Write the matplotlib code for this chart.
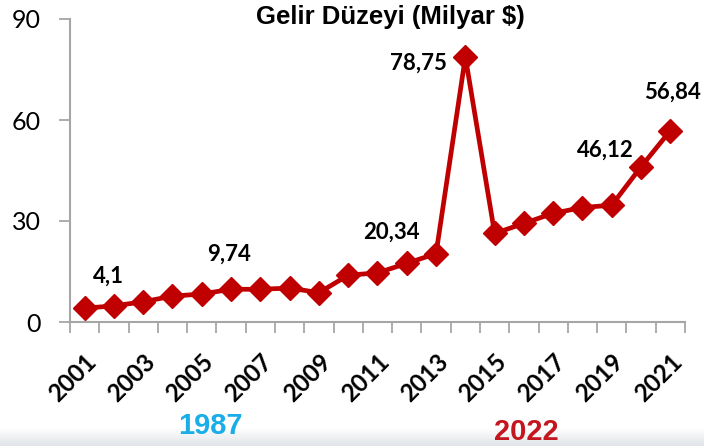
import numpy as np
import matplotlib
matplotlib.use("Agg")
from matplotlib import pyplot as plt
from matplotlib.colors import LinearSegmentedColormap

# data
years = [str(y) for y in range(2001, 2022)]
values = [4.1, 4.8, 6.0, 7.7, 8.3, 9.74, 9.7, 10.1, 8.7, 13.9,
          14.6, 17.4, 20.34, 78.75, 26.3, 29.3, 32.3, 34.0, 34.7, 46.12, 56.84]
labelled = {"2001": "4,1", "2006": "9,74", "2013": "20,34",
            "2014": "78,75", "2020": "46,12", "2021": "56,84"}
label_offsets = {"2001": (24, 32), "2006": (-2, 35), "2013": (-45, 21),
                 "2014": (-47, -6), "2020": (-36, 17), "2021": (2, 38)}
yticks = [0, 30, 60, 90]

RED = "#c00000"
GRAY = "#a6a6a6"
NUM_FONT = "Lato"

fig = plt.figure(figsize=(7.04, 4.46), dpi=100)

# faint gray band at the bottom of the slide
band = fig.add_axes([0, 0, 1, 18 / 446], zorder=0)
grad = np.linspace(0, 1, 50).reshape(-1, 1)
band_cmap = LinearSegmentedColormap.from_list("band", ["#ffffff", "#dfe3e7"])
band.imshow(grad, aspect="auto", cmap=band_cmap, extent=[0, 1, 0, 1],
            origin="upper")
band.axis("off")

ax = fig.add_axes([70 / 704, (446 - 322) / 446, 615 / 704, 303 / 446])
ax.patch.set_alpha(0)

x = np.arange(len(years))
ax.plot(x, values, color=RED, lw=3.4, marker="D", ms=12, mec=RED, mfc=RED,
        clip_on=False, zorder=3)

ax.set_xlim(-0.5, len(years) - 0.5)
ax.set_ylim(0, 90)
ax.set_yticks(yticks)
ax.set_yticklabels([str(t) for t in yticks], fontsize=18, family=NUM_FONT)

# category axis: ticks sit between categories, labels on every other year
ax.set_xticks(np.arange(len(years) + 1) - 0.5, minor=False)
ax.set_xticklabels([])
ax.set_xticks(x[::2], minor=True)
ax.set_xticklabels(years[::2], minor=True, rotation=45, ha="right",
                   rotation_mode="anchor", fontsize=17.5, fontweight="bold",
                   family=NUM_FONT)
ax.tick_params(axis="x", which="minor", length=0, pad=20)
ax.tick_params(axis="x", which="major", length=8, width=1.3, color=GRAY)
ax.tick_params(axis="y", length=8, width=1.3, color=GRAY, pad=13)

for side in ["top", "right"]:
    ax.spines[side].set_visible(False)
for side in ["left", "bottom"]:
    ax.spines[side].set_color(GRAY)
    ax.spines[side].set_linewidth(1.5)

for i, yr in enumerate(years):
    if yr in labelled:
        dx, dy = label_offsets[yr]
        ax.annotate(labelled[yr], (i, values[i]), xytext=(dx, dy),
                    textcoords="offset pixels", ha="center", va="center",
                    fontsize=16, fontweight="bold", family=NUM_FONT)

fig.text(390 / 704, 1 - 17 / 446, "Gelir Düzeyi (Milyar $)", ha="center",
         va="center", fontsize=18.5, fontweight="bold", family="Liberation Sans")

fig.text(210 / 704, 1 - 426 / 446, "1987", ha="center", va="center",
         fontsize=21, fontweight="bold", color="#19aee8",
         family="Liberation Sans", zorder=5)
fig.text(526 / 704, 1 - 432 / 446, "2022", ha="center", va="center",
         fontsize=21, fontweight="bold", color="#c4161e",
         family="Liberation Sans", zorder=5)

fig.savefig("out.png", dpi=100)
